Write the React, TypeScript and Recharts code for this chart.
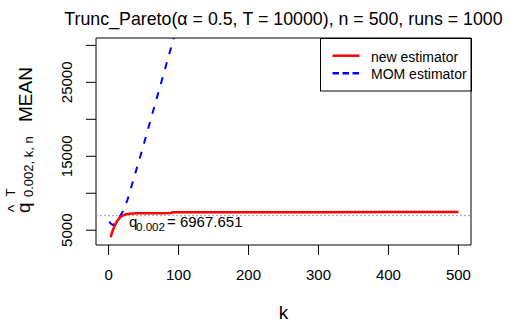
import React from "react";
import {
  LineChart,
  Line,
  XAxis,
  YAxis,
  ReferenceLine,
  ReferenceArea,
} from "recharts";

// k values and mean estimates
const RED_K = [3, 4, 5, 6, 8, 10, 12, 15, 18, 21, 25, 30, 35, 40, 50, 60, 75, 90, 91, 100, 200, 300, 400, 500];
const RED_MEAN = [4050, 4400, 4700, 5000, 5450, 5850, 6200, 6600, 6850, 7020, 7150, 7230, 7270, 7290, 7300, 7305, 7310, 7315, 7430, 7435, 7440, 7445, 7450, 7450];

const BLUE_K = [1, 3, 6, 9, 12, 15, 20, 27, 34, 41, 46, 60, 73, 85, 92, 96, 100];
const BLUE_MEAN = [6150, 5900, 5700, 5900, 6300, 6700, 7500, 9100, 11350, 13600, 15200, 19900, 24250, 28270, 30600, 31950, 33300];

const Q_TRUE = 6967.651;

const X_TICKS = [0, 100, 200, 300, 400, 500];
const Y_TICKS = [5000, 10000, 15000, 20000, 25000, 30000];
const Y_LABELLED = [5000, 15000, 25000];

const SERIES_NAMES = ["new estimator", "MOM estimator"];

const X_DOMAIN: [number, number] = [-18, 518];
const Y_DOMAIN: [number, number] = [3000, 31000];

const FONT = "'Liberation Sans', Arial, sans-serif";
const RED = "#ff0000";
const BLUE = "#0000ff";

const redData = RED_K.map((k, i) => ({ k, mean: RED_MEAN[i] }));
const blueData = BLUE_K.map((k, i) => ({ k, mean: BLUE_MEAN[i] }));

function XTick({ x, payload }: any) {
  return (
    <text x={x} y={280} textAnchor="middle" fontSize={15} fontFamily={FONT} fill="#000">
      {payload.value}
    </text>
  );
}

function YTick({ y, payload }: any) {
  if (!Y_LABELLED.includes(payload.value)) return null;
  return (
    <text
      transform={`translate(72, ${y}) rotate(-90)`}
      textAnchor="middle"
      fontSize={15}
      fontFamily={FONT}
      fill="#000"
    >
      {payload.value}
    </text>
  );
}

// R-style legend box in the top right corner of the plot
function LegendBox() {
  return (
    <g transform="translate(320.5, 38.5)">
      <rect x={0} y={0} width={151} height={52.5} fill="#fff" stroke="#000" />
      <line x1={12} x2={39} y1={17.2} y2={17.2} stroke={RED} strokeWidth={2.5} />
      <line x1={12} x2={39} y1={34.8} y2={34.8} stroke={BLUE} strokeWidth={2.5} strokeDasharray="6.5 3.5" />
      <text x={50.5} y={23.2} fontSize={14} fontFamily={FONT} fill="#000">
        {SERIES_NAMES[0]}
      </text>
      <text x={50.5} y={40.5} fontSize={14} fontFamily={FONT} fill="#000">
        {SERIES_NAMES[1]}
      </text>
    </g>
  );
}

export default function App() {
  return (
    <div style={{ position: "absolute", left: 0, top: 0, width: 510, height: 322, background: "#fff" }}>
      <LineChart width={510} height={322} margin={{ top: 38, right: 39, bottom: 0, left: 0 }}>
        <XAxis
          type="number"
          dataKey="k"
          domain={X_DOMAIN}
          ticks={X_TICKS}
          interval={0}
          allowDataOverflow
          height={77}
          tickSize={10}
          axisLine={false}
          tickLine={{ stroke: "#000" }}
          tick={<XTick />}
        />
        <YAxis
          type="number"
          domain={Y_DOMAIN}
          ticks={Y_TICKS}
          interval={0}
          allowDataOverflow
          width={96}
          tickSize={10}
          axisLine={false}
          tickLine={{ stroke: "#000" }}
          tick={<YTick />}
        />
        <ReferenceLine y={Q_TRUE} stroke="#a0a0a0" strokeDasharray="2 2" />
        <Line
          data={blueData}
          dataKey="mean"
          name={SERIES_NAMES[1]}
          type="linear"
          stroke={BLUE}
          strokeWidth={2}
          strokeDasharray="7 8.5"
          dot={false}
          isAnimationActive={false}
        />
        <Line
          data={redData}
          dataKey="mean"
          name={SERIES_NAMES[0]}
          type="linear"
          stroke={RED}
          strokeWidth={2.5}
          dot={false}
          isAnimationActive={false}
        />
        <ReferenceArea
          x1={X_DOMAIN[0]}
          x2={X_DOMAIN[1]}
          y1={Y_DOMAIN[0]}
          y2={Y_DOMAIN[1]}
          fill="none"
          stroke="#000"
          ifOverflow="visible"
        />
        <LegendBox />
        <text x={283.5} y={25} textAnchor="middle" fontSize={17.8} fontFamily={FONT} fill="#000">
          Trunc_Pareto(α = 0.5, T = 10000), n = 500, runs = 1000
        </text>
        <text x={283.5} y={319} textAnchor="middle" fontSize={19} fontFamily={FONT} fill="#000">
          k
        </text>
        <g transform="translate(29.5, 213) rotate(-90)" fontFamily={FONT} fill="#000">
          <text x={0} y={0} fontSize={18.75}>q</text>
          <text x={0.8} y={-10} fontSize={16}>^</text>
          <text x={16.5} y={-14.5} fontSize={13}>T</text>
          <text x={16} y={3.5} fontSize={13}>0.002, k, n</text>
          <text x={91} y={2.5} fontSize={19}>MEAN</text>
        </g>
        <text x={129} y={226.7} fontSize={15} fontFamily={FONT} fill="#000">
          q
        </text>
        <text x={136} y={230.7} fontSize={11.6} fontFamily={FONT} fill="#000">
          0.002
        </text>
        <text x={167} y={226.7} fontSize={15} fontFamily={FONT} fill="#000">
          = 6967.651
        </text>
      </LineChart>
    </div>
  );
}
